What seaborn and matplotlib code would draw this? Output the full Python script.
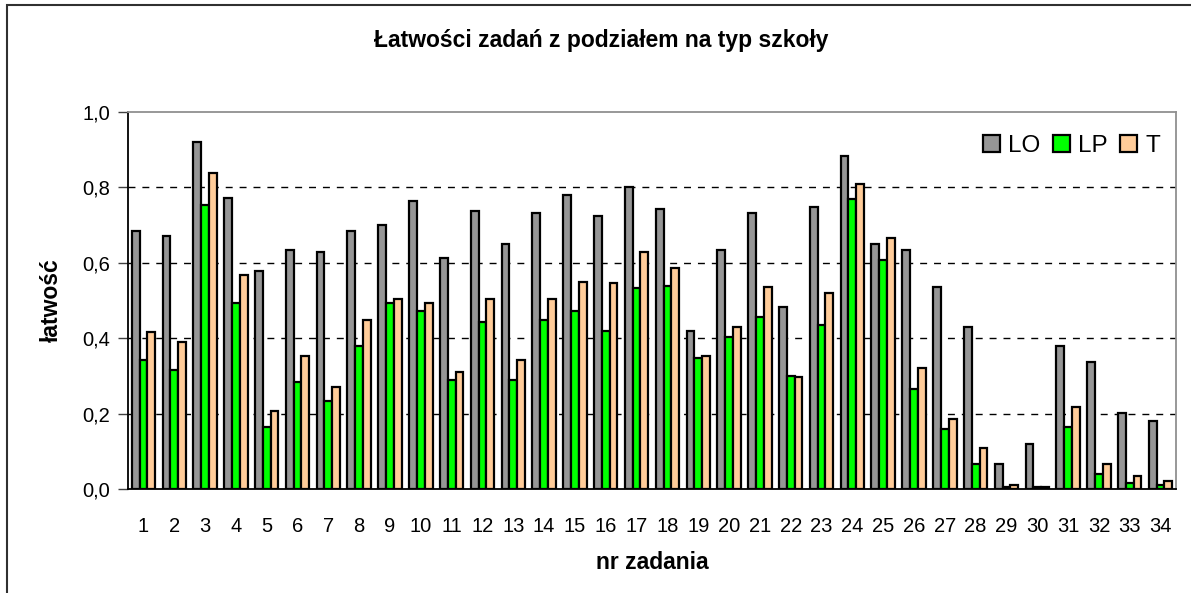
import pandas as pd
import seaborn as sns
import matplotlib
matplotlib.use('Agg')
import matplotlib.pyplot as plt
from matplotlib.ticker import FuncFormatter, MultipleLocator
from matplotlib.patches import Rectangle

# task numbers and facility index per school type
tasks = [str(i) for i in range(1, 35)]
lo = [0.684, 0.671, 0.920, 0.771, 0.577, 0.634, 0.628, 0.685, 0.701, 0.764,
      0.612, 0.738, 0.650, 0.732, 0.779, 0.723, 0.800, 0.744, 0.420, 0.634,
      0.732, 0.483, 0.748, 0.883, 0.649, 0.634, 0.535, 0.431, 0.067, 0.119,
      0.379, 0.337, 0.202, 0.180]
lp = [0.342, 0.315, 0.753, 0.493, 0.164, 0.284, 0.233, 0.378, 0.493, 0.473,
      0.289, 0.442, 0.289, 0.447, 0.473, 0.420, 0.534, 0.539, 0.348, 0.404,
      0.457, 0.301, 0.435, 0.770, 0.607, 0.264, 0.160, 0.067, 0.004, 0.004,
      0.164, 0.040, 0.015, 0.010]
t = [0.416, 0.389, 0.837, 0.567, 0.207, 0.354, 0.271, 0.447, 0.504, 0.493,
     0.311, 0.504, 0.342, 0.504, 0.550, 0.546, 0.628, 0.587, 0.353, 0.431,
     0.535, 0.296, 0.520, 0.810, 0.666, 0.322, 0.187, 0.108, 0.011, 0.004,
     0.218, 0.067, 0.035, 0.020]
series = ['LO', 'LP', 'T']
colors = ['#969696', '#00FF00', '#FFCC99']

df = pd.DataFrame({'nr': tasks * 3,
                   'typ': ['LO'] * 34 + ['LP'] * 34 + ['T'] * 34,
                   'val': lo + lp + t})

sns.set_theme(style='white')
plt.rcParams['font.family'] = ['Liberation Sans', 'DejaVu Sans']
plt.rcParams['text.color'] = 'black'
plt.rcParams['axes.labelcolor'] = 'black'
plt.rcParams['xtick.labelcolor'] = 'black'
plt.rcParams['ytick.labelcolor'] = 'black'

fig = plt.figure(figsize=(11.91, 5.93), dpi=100)
ax = fig.add_axes([128 / 1191, 1 - 489 / 593, (1176 - 128) / 1191, (489 - 112) / 593])

sns.barplot(data=df, x='nr', y='val', hue='typ', hue_order=series,
            palette=colors, width=0.76, gap=0, edgecolor='black',
            linewidth=1.6, saturation=1, ax=ax)

ax.set_xlim(-0.5, 33.5)
ax.set_ylim(0, 1.0)
ax.yaxis.set_major_locator(MultipleLocator(0.2))
ax.yaxis.set_major_formatter(FuncFormatter(lambda v, p: f'{v:.1f}'.replace('.', ',')))
for yv in [0.2, 0.4, 0.6, 0.8]:
    ax.axhline(yv, color='black', lw=1, ls=(0, (5, 5)), zorder=0)

# tick marks between categories, labels at centres
ax.set_xticks(range(34))
ax.set_xticks([i + 0.5 for i in range(-1, 34)], minor=True)
ax.tick_params(axis='x', which='major', length=0, labelsize=14.5, pad=20)
ax.tick_params(axis='x', which='minor', length=6, width=1, color='#404040', direction='out')
ax.tick_params(axis='y', length=7, width=1, color='#404040', direction='out',
               labelsize=14.5, left=True, pad=6)

for side in ['left', 'bottom']:
    ax.spines[side].set_color('black')
    ax.spines[side].set_linewidth(1.3)
for side in ['top', 'right']:
    ax.spines[side].set_color('#909090')
    ax.spines[side].set_linewidth(1.3)

ax.set_xlabel('nr zadania', fontsize=16.5, fontweight='bold', labelpad=11)
ax.set_ylabel('łatwość', fontsize=16.5, fontweight='bold', labelpad=14)
fig.text(0.505, 1 - 40 / 593, 'Łatwości zadań z podziałem na typ szkoły',
         ha='center', va='center', fontsize=16.5, fontweight='bold')

ax.legend(loc='center right', bbox_to_anchor=(1182 / 1191, 1 - 146 / 593),
          bbox_transform=fig.transFigure, ncol=3, frameon=False, fontsize=17.5,
          handlelength=0.7, handleheight=0.7, handletextpad=0.35,
          columnspacing=0.5, title=None)

# outer chart border
fig.patches.append(Rectangle((6.5 / 1191, -0.05), 1.2, 1 - 5 / 593 + 0.05,
                             transform=fig.transFigure, fill=False,
                             edgecolor='#303030', lw=1.5))

fig.savefig('out.png', dpi=100)
